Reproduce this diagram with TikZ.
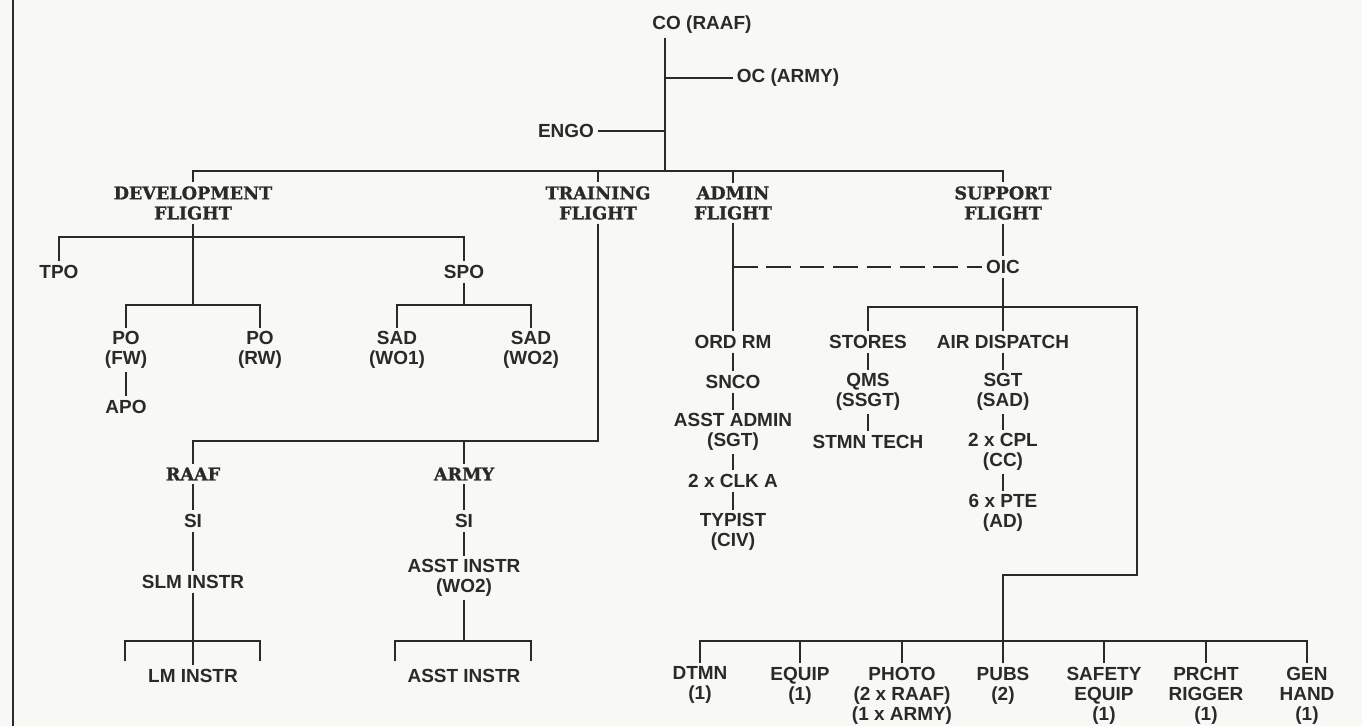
\documentclass[tikz,border=0pt]{standalone}
\usepackage{fontspec}
\setmainfont{Liberation Sans}
\newfontfamily\slabfont[BoldFeatures={FakeBold=1.2}]{DejaVu Serif}
\usepackage{tikz}
\usetikzlibrary{calc}
\definecolor{PaperWhite}{HTML}{F8F8F5}
\definecolor{InkGrey}{HTML}{2A2A2A}
\tikzset{
    billet/.style={font=\bfseries\fontsize{10.8pt}{11.4pt}\selectfont, text=InkGrey, align=center, inner sep=2pt},
    flighthead/.style={font=\slabfont\bfseries\fontsize{10pt}{11.4pt}\selectfont, text=InkGrey, align=center, inner sep=2pt},
    orgline/.style={draw=InkGrey, line width=0.9pt}
}

\begin{document}
\begin{tikzpicture}[x=0.02cm, y=-0.02cm]
    \fill[PaperWhite] (0,0) rectangle (1362,726);
    \useasboundingbox (0,0) rectangle (1362,726);
    \draw[InkGrey, line width=1.5pt] (13,0) -- (13,726);

    % Command
    \node[billet] (co) at (702,25) {CO (RAAF)};
    \node[billet] (oc) at (788,78) {OC (ARMY)};
    \node[billet] (engo) at (566,131) {ENGO};
    \coordinate (hq) at (665,171);

    % Flights
    \node[flighthead] (dev) at (193,203) {DEVELOPMENT\\FLIGHT};
    \node[flighthead] (trn) at (598,203) {TRAINING\\FLIGHT};
    \node[flighthead] (adm) at (733,203) {ADMIN\\FLIGHT};
    \node[flighthead] (sup) at (1003,203) {SUPPORT\\FLIGHT};

    \draw[orgline] (co.south -| hq) -- (hq);
    \draw[orgline] (oc.west) -- (oc.west -| hq);
    \draw[orgline] (engo.east) -- (engo.east -| hq);
    \draw[orgline] (dev.north) |- (hq) -| (sup.north);
    \draw[orgline] (trn.north) -- (trn.north |- hq);
    \draw[orgline] (adm.north) -- (adm.north |- hq);

    % Development flight
    \node[billet] (tpo) at (59,272) {TPO};
    \node[billet] (spo) at (464,272) {SPO};
    \node[billet] (pofw) at (126,350) {PO\\(FW)};
    \node[billet] (porw) at (260,350) {PO\\(RW)};
    \node[billet] (sadone) at (397,350) {SAD\\(WO1)};
    \node[billet] (sadtwo) at (531,350) {SAD\\(WO2)};
    \node[billet] (apo) at (126,407) {APO};
    \coordinate (devbar) at (193,237);
    \coordinate (pobar) at (193,305);
    \coordinate (sadbar) at (464,305);

    \draw[orgline] (dev.south) -- (pobar);
    \draw[orgline] (tpo.north) |- (devbar) -| (spo.north);
    \draw[orgline] (pofw.north) |- (pobar) -| (porw.north);
    \draw[orgline] (spo.south) -- (sadbar);
    \draw[orgline] (sadone.north) |- (sadbar) -| (sadtwo.north);
    \draw[orgline] (pofw.south) -- (apo.north);

    % Training flight
    \node[flighthead] (raaf) at (193,474) {RAAF};
    \node[flighthead] (army) at (464,474) {ARMY};
    \coordinate (trnbar) at (598,441);
    \draw[orgline] (trn.south) -- (trnbar) -| (raaf.north);
    \draw[orgline] (army.north) -- (army.north |- trnbar);

    \node[billet] (sira) at (193,521) {SI};
    \node[billet] (slm) at (193,582) {SLM INSTR};
    \node[billet] (lm) at (193,676) {LM INSTR};
    \coordinate (lmbar) at (193,641);
    \coordinate (lmleft) at ($(lm.north)+(-68,-4)$);
    \coordinate (lmright) at ($(lm.north)+(67,-4)$);
    \draw[orgline] (raaf.south) -- (sira.north);
    \draw[orgline] (sira.south) -- (slm.north);
    \draw[orgline] (slm.south) -- (lm.north);
    \draw[orgline] (lmleft) |- (lmbar) -| (lmright);

    \node[billet] (siar) at (464,521) {SI};
    \node[billet] (ainstr) at (464,578) {ASST INSTR\\(WO2)};
    \node[billet] (asst) at (464,676) {ASST INSTR};
    \coordinate (aibar) at (464,641);
    \coordinate (aileft) at ($(asst.north)+(-69,-4)$);
    \coordinate (airight) at ($(asst.north)+(67,-4)$);
    \draw[orgline] (army.south) -- (siar.north);
    \draw[orgline] (siar.south) -- (ainstr.north);
    \draw[orgline] (ainstr.south) -- (aibar);
    \draw[orgline] (aileft) |- (aibar) -| (airight);

    % Admin flight
    \node[billet] (ord) at (733,342) {ORD RM};
    \node[billet] (snco) at (733,382) {SNCO};
    \node[billet] (asad) at (733,432) {ASST ADMIN\\(SGT)};
    \node[billet] (clk) at (733,481) {2 x CLK A};
    \node[billet] (typ) at (733,532) {TYPIST\\(CIV)};
    \draw[orgline] (adm.south) -- (ord.north);
    \draw[orgline] (ord.south) -- (snco.north);
    \draw[orgline] (snco.south) -- (asad.north);
    \draw[orgline] (asad.south) -- (clk.north);
    \draw[orgline] (clk.south) -- (typ.north);

    % Support flight
    \node[billet] (oic) at (1003,267) {OIC};
    \draw[orgline, dash pattern=on 14pt off 5pt] (oic.west -| adm.south) -- (oic.west);
    \draw[orgline] (sup.south) -- (oic.north);

    \node[billet] (sto) at (868,342) {STORES};
    \node[billet] (air) at (1003,342) {AIR DISPATCH};
    \node[billet] (qms) at (868,392) {QMS\\(SSGT)};
    \node[billet] (stmn) at (868,442) {STMN TECH};
    \node[billet] (sgt) at (1003,392) {SGT\\(SAD)};
    \node[billet] (cpl) at (1003,452) {2 x CPL\\(CC)};
    \node[billet] (pte) at (1003,513) {6 x PTE\\(AD)};
    \coordinate (supbar) at (1003,307);
    \coordinate (suprt) at (1137,575);
    \coordinate (pubbar) at (1003,641);

    \draw[orgline] (oic.south) -- (air.north);
    \draw[orgline] (sto.north) |- (supbar) -| (suprt) -| (pubbar);
    \draw[orgline] (sto.south) -- (qms.north);
    \draw[orgline] (qms.south) -- (stmn.north);
    \draw[orgline] (air.south) -- (sgt.north);
    \draw[orgline] (sgt.south) -- (cpl.north);
    \draw[orgline] (cpl.south) -- (pte.north);

    % Sections
    \node[billet, anchor=north] (dtmn) at (700,663) {DTMN\\(1)};
    \node[billet, anchor=north] (equip) at (800,663) {EQUIP\\(1)};
    \node[billet, anchor=north] (photo) at (902,663) {PHOTO\\(2 x RAAF)\\(1 x ARMY)};
    \node[billet, anchor=north] (pubs) at (1003,663) {PUBS\\(2)};
    \node[billet, anchor=north] (safety) at (1104,663) {SAFETY\\EQUIP\\(1)};
    \node[billet, anchor=north] (prcht) at (1206,663) {PRCHT\\RIGGER\\(1)};
    \node[billet, anchor=north] (gen) at (1307,663) {GEN\\HAND\\(1)};

    \draw[orgline] (dtmn.north) |- (pubbar) -| (gen.north);
    \draw[orgline] (equip.north) -- (equip.north |- pubbar);
    \draw[orgline] (photo.north) -- (photo.north |- pubbar);
    \draw[orgline] (pubs.north) -- (pubbar);
    \draw[orgline] (safety.north) -- (safety.north |- pubbar);
    \draw[orgline] (prcht.north) -- (prcht.north |- pubbar);
\end{tikzpicture}
\end{document}
